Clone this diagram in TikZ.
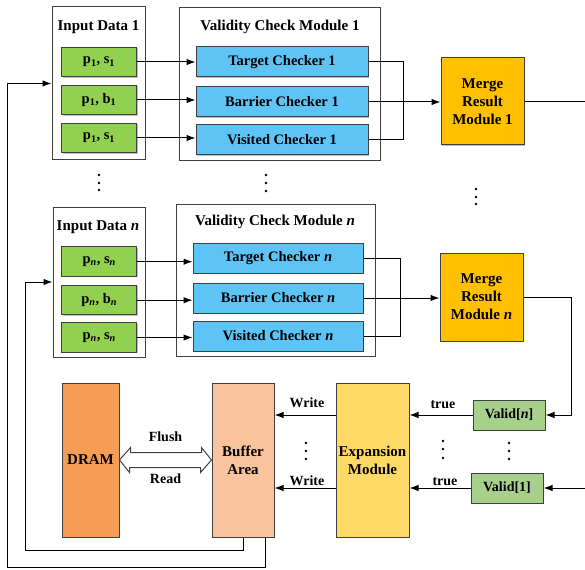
\documentclass[tikz,border=0pt]{standalone}
\usepackage{fontspec}
\setmainfont{Liberation Serif}
\usetikzlibrary{arrows.meta,shadows,calc}
\definecolor{cgreen}{HTML}{92D050}
\definecolor{cblue}{HTML}{5EC4F5}
\definecolor{cmerge}{HTML}{FFC000}
\definecolor{cdram}{HTML}{F59D56}
\definecolor{cbuf}{HTML}{F8C39D}
\definecolor{cexp}{HTML}{FFD966}
\definecolor{cvalid}{HTML}{A8D08D}
\definecolor{cedge}{HTML}{404040}
\begin{document}
\begin{tikzpicture}[x=1pt,y=-1pt,
  box/.style={draw=cedge, line width=1pt, inner sep=0pt, align=center,
    font=\bfseries\fontsize{15}{18}\selectfont,
    drop shadow={shadow xshift=1pt, shadow yshift=-1pt, opacity=0.25, fill=black}},
  frame/.style={draw=cedge, line width=1pt, fill=white, inner sep=0pt},
  title/.style={font=\bfseries\fontsize{15}{18}\selectfont, inner sep=0pt},
  gbox/.style={box, fill=cgreen, minimum width=75pt, minimum height=29.5pt, font=\bfseries\fontsize{14.5}{17}\selectfont},
  cbox/.style={box, fill=cblue, minimum height=30pt, font=\bfseries\fontsize{14.5}{17}\selectfont},
  conn/.style={line width=1pt, -{Latex[length=9pt,width=6.5pt]}},
  plain/.style={line width=1pt},
  lbl/.style={font=\bfseries\fontsize{14}{16}\selectfont, inner sep=0pt},
  dot/.style={fill=black}
]
\useasboundingbox (0,0) rectangle (585,569);

% ---- row 1 ----
\node[frame, minimum width=93pt, minimum height=153pt] (in1) at (98.5,83.5) {};
\node[title] (in1t) at (98.5,27) {Input Data 1};
\node[gbox] (g11) at (99,62) {p\textsubscript{1}, s\textsubscript{1}};
\node[gbox] (g12) at (99,100) {p\textsubscript{1}, b\textsubscript{1}};
\node[gbox] (g13) at (99,138) {p\textsubscript{1}, s\textsubscript{1}};

\node[frame, minimum width=201pt, minimum height=153pt] (vc1) at (279.5,84.5) {};
\node[title] (vc1t) at (280,27) {Validity Check Module 1};
\node[cbox, minimum width=172pt] (t1) at (282,62) {Target Checker 1};
\node[cbox, minimum width=172pt] (b1) at (282,102) {Barrier Checker 1};
\node[cbox, minimum width=172pt] (v1) at (282,140) {Visited Checker 1};

\node[box, fill=cmerge, minimum width=83pt, minimum height=87pt] (mg1) at (482.5,101.5) {Merge\\Result\\Module 1};

\draw[conn] (g11.east) -- (g11.east -| t1.west);
\draw[conn] (g12.east) -- (g12.east -| b1.west);
\draw[conn] (g13.east) -- (g13.east -| v1.west);
\draw[plain] (t1.east) -- ++(35,0) |- (v1.east);
\draw[conn] (b1.east) -- (b1.east -| mg1.west);
\coordinate (out1) at (585,101.5);
\draw[plain] (mg1.east) -- (out1);

% ---- row n ----
\node[frame, minimum width=92pt, minimum height=150pt] (inn) at (99,282) {};
\node[title] (innt) at (98,227) {Input Data \textit{n}};
\node[gbox] (gn1) at (99.2,261.7) {p\textsubscript{\textit{n}}, s\textsubscript{\textit{n}}};
\node[gbox] (gn2) at (99.2,300.2) {p\textsubscript{\textit{n}}, b\textsubscript{\textit{n}}};
\node[gbox] (gn3) at (99.2,337.5) {p\textsubscript{\textit{n}}, s\textsubscript{\textit{n}}};

\node[frame, minimum width=199pt, minimum height=152pt] (vcn) at (275.5,280) {};
\node[title] (vcnt) at (275,222) {Validity Check Module \textit{n}};
\node[cbox, minimum width=170pt] (tn) at (278,258) {Target Checker \textit{n}};
\node[cbox, minimum width=170pt] (bn) at (278,298) {Barrier Checker \textit{n}};
\node[cbox, minimum width=170pt] (vn) at (278,336) {Visited Checker \textit{n}};

\node[box, fill=cmerge, minimum width=83pt, minimum height=88pt] (mgn) at (481.5,297) {Merge\\Result\\Module \textit{n}};

\draw[conn] (gn1.east) -- (gn1.east -| tn.west);
\draw[conn] (gn2.east) -- (gn2.east -| bn.west);
\draw[conn] (gn3.east) -- (gn3.east -| vn.west);
\draw[plain] (tn.east) -- ++(37,0) |- (vn.east);
\draw[conn] (bn.east) -- (bn.east -| mgn.west);

% ---- bottom ----
\node[box, fill=cdram, minimum width=57pt, minimum height=154pt] (dram) at (90.5,460) {DRAM};
\node[box, fill=cbuf, minimum width=62pt, minimum height=154pt] (buf) at (243,460) {Buffer\\Area};
\node[box, fill=cexp, minimum width=73pt, minimum height=154pt] (exp) at (372.5,460) {Expansion\\Module};
\node[box, fill=cvalid, minimum width=72pt, minimum height=30pt, font=\bfseries\fontsize{14}{16}\selectfont] (valn) at (509,415) {Valid[\textit{n}]};
\node[box, fill=cvalid, minimum width=72pt, minimum height=30pt, font=\bfseries\fontsize{14}{16}\selectfont] (val1) at (507,488) {Valid[1]};

\draw[conn] (mgn.east) -| ($(valn.east)+(26,0)$) -- (valn.east);
\coordinate (in1r) at (585,488);
\draw[conn] (in1r) -- (val1.east);

\draw[conn] (valn.west) -- (valn.west -| exp.east);
\node[lbl] (tr1) at (443,405) {true};
\draw[conn] (val1.west) -- (val1.west -| exp.east);
\node[lbl] (tr2) at (445,482) {true};

\draw[conn] (exp.west |- valn.west) -- (buf.east |- valn.west);
\node[lbl] (wr1) at (307,403) {Write};
\draw[conn] (exp.west |- val1.west) -- (buf.east |- val1.west);
\node[lbl] (wr2) at (307,481) {Write};

% double arrow DRAM <-> Buffer
\draw[line width=1pt, draw=cedge, fill=white] (dram.east) -- ++(11,-12.5) -- ++(0,5) -- ++(71,0) -- ++(0,-5) -- (buf.west)
  -- ++(-11,12.5) -- ++(0,-5) -- ++(-71,0) -- ++(0,5) -- cycle;
\node[lbl] (flush) at (165.5,437) {Flush};
\node[lbl] (read) at (165.5,479) {Read};

% feedback loops
\draw[conn] ([xshift=22pt]buf.south) -- ++(0,30) -| ($(in1.west)+(-44,0)$) -- (in1.west);
\draw[conn] (buf.south) -- ++(0,13) -| ($(inn.west)+(-27,0)$) -- (inn.west);

% dots
\foreach \x/\y in {99/175,99/183,99/190, 266/175,266/183,266/191, 476/189,476/197,476/204,
  306/443,306/451,306/459, 443/441,443/449,443/458, 509/443,509/451,509/459}
  \fill[dot] (\x,\y) circle (1.3pt);
\end{tikzpicture}
\end{document}
